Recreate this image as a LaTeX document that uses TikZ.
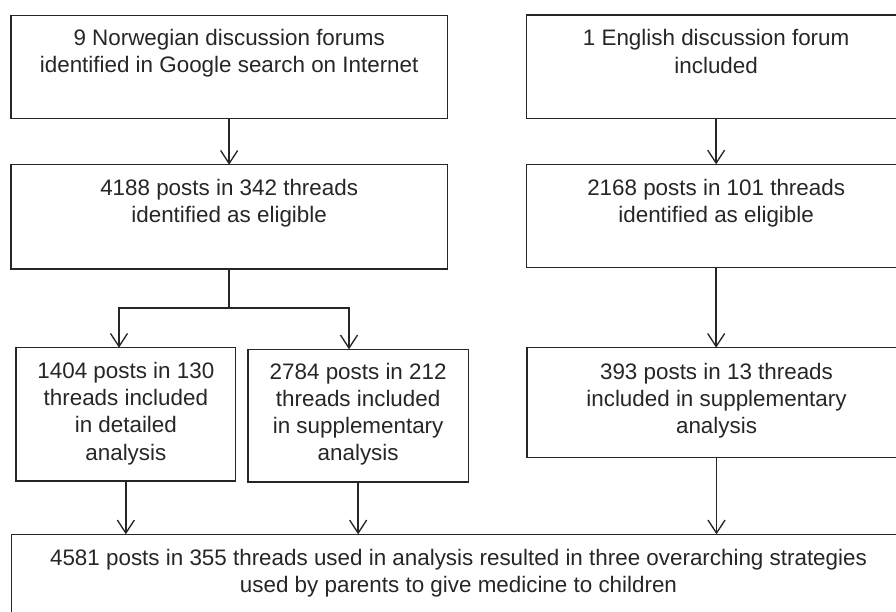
\documentclass[tikz,border=0pt]{standalone}
\usepackage{fontspec}
\setmainfont{Liberation Sans}
\usetikzlibrary{arrows.meta}
\definecolor{ink}{HTML}{262626}
\begin{document}
\begin{tikzpicture}[x=1pt,y=-1pt,
  box/.style={draw=ink, line width=1.35pt, inner sep=0pt, outer sep=0pt},
  txt/.style={inner sep=0pt, outer sep=0pt, anchor=base, text=ink, font=\fontsize{22.4}{27.3}\selectfont},
  arr/.style={draw=ink, line width=1.35pt, line cap=rect, -{Straight Barb[length=13pt,width=17pt]}},
  ln/.style={draw=ink, line width=1.35pt, line cap=rect}]
\useasboundingbox (0,0) rectangle (896,611);
\clip (0,0) rectangle (896,611);
% boxes
\node[box, minimum width=436.3pt, minimum height=102.6pt] (b1) at (229.15,67) {};
\node[box, minimum width=436.3pt, minimum height=104.3pt] (b2) at (229.15,216.85) {};
\node[box, minimum width=379.7pt, minimum height=103.3pt] (b3) at (716.15,66.65) {};
\node[box, minimum width=379.7pt, minimum height=103.4pt] (b4) at (716.15,216) {};
\node[box, minimum width=219.7pt, minimum height=133.3pt] (b5) at (125.85,414.35) {};
\node[box, minimum width=220.3pt, minimum height=132.7pt] (b6) at (358.15,415.65) {};
\node[box, minimum width=379pt, minimum height=109.6pt] (b7) at (716.5,402.5) {};
\node[box, minimum width=893.3pt, minimum height=115.7pt] (b8) at (458.35,592.15) {};
% texts
\node[txt] (t1) at (229.15,45.5) {\parbox[t]{430pt}{\centering 9 Norwegian discussion forums\\identified in Google search on Internet}};
\node[txt] (t2) at (229.15,195) {\parbox[t]{430pt}{\centering 4188 posts in 342 threads\\identified as eligible}};
\node[txt] (t3) at (716.15,45.7) {\parbox[t]{370pt}{\centering 1 English discussion forum\\included}};
\node[txt] (t4) at (716.15,195) {\parbox[t]{370pt}{\centering 2168 posts in 101 threads\\identified as eligible}};
\node[txt] (t5) at (125.85,378.3) {\parbox[t]{215pt}{\centering 1404 posts in 130\\threads included\\in detailed\\analysis}};
\node[txt] (t6) at (358.15,379) {\parbox[t]{215pt}{\centering 2784 posts in 212\\threads included\\in supplementary\\analysis}};
\node[txt] (t7) at (716.5,379) {\parbox[t]{370pt}{\centering 393 posts in 13 threads\\included in supplementary\\analysis}};
\node[txt] (t8) at (458.5,565) {\parbox[t]{880pt}{\centering 4581 posts in 355 threads used in analysis resulted in three overarching strategies\\used by parents to give medicine to children}};
% connectors
\coordinate (sp) at (229.15,308);
\coordinate (spl) at (119,308);
\coordinate (spr) at (349,308);
\draw[arr] (b1.south) -- (b2.north);
\draw[arr] (b3.south) -- (b4.north);
\draw[arr] (b4.south) -- (b4.south |- b7.north);
\draw[ln] (b2.south) -- (sp);
\draw[ln] (spl) -- (spr);
\draw[arr] (spl) -- (spl |- b5.north);
\draw[arr] (spr) -- (spr |- b6.north);
\draw[arr] (b5.south) -- (b5.south |- b8.north);
\draw[arr] (b6.south) -- (b6.south |- b8.north);
\draw[arr] (b7.south) -- (b7.south |- b8.north);
\end{tikzpicture}
\end{document}
